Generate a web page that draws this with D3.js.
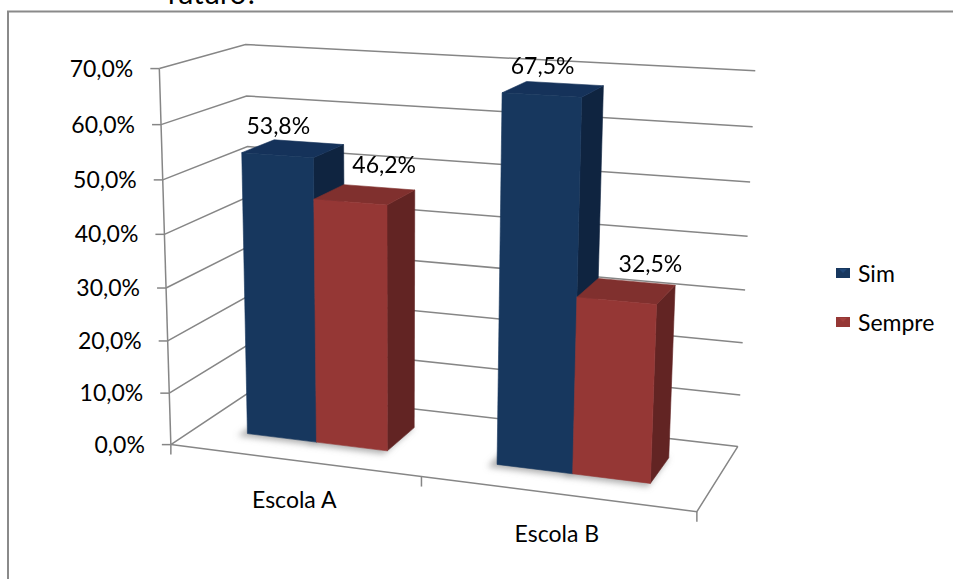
<!DOCTYPE html>
<html>
<head>
<meta charset="utf-8">
<script src="https://cdn.jsdelivr.net/npm/d3@7"></script>
<style>
  body { margin: 0; background: #fff; }
  svg { display: block; }
  text { font-family: Lato, "Open Sans", sans-serif; fill: #000; }
</style>
</head>
<body>
<svg id="chart" width="953" height="579"></svg>
<script>
// ---- data ----
const categories = ["Escola A", "Escola B"];
const seriesNames = ["Sim", "Sempre"];
const simValues = [53.8, 67.5];
const sempreValues = [46.2, 32.5];
const valueTicks = [0, 10, 20, 30, 40, 50, 60, 70];
const titleText = "futuro?";

// ---- styles ----
const palette = {
  Sim:    { front: "#17375E", side: "#0F2440", top: "#15325A", legend: "#1F4778" },
  Sempre: { front: "#953735", side: "#622423", top: "#80302E", legend: "#A4403D" }
};
const gridColor = "#868686";

const svg = d3.select("#chart");
const defs = svg.append("defs");
defs.append("filter").attr("id", "soft").attr("x", "-20%").attr("y", "-50%").attr("width", "140%").attr("height", "200%")
  .append("feGaussianBlur").attr("stdDeviation", 3);

// ---- 3D box: unit cube (x across categories, y value, z depth front->back) ----
// screen positions of the plot box corners
const boxAnchors = [
  [[0, 1, 0], [158, 69]],
  [[0, 0, 0], [172, 443]],
  [[0, 1, 1], [247, 44]],
  [[0, 0, 1], [251, 392]],
  [[1, 1, 1], [755, 71]],
  [[1, 0, 1], [738, 445]],
  [[1, 0, 0], [697, 513]]
];

// Fit a perspective camera (3x4) to the anchors by linear least squares
function fitCamera(pairs) {
  const cu = 450, cv = 280, s = 300;
  const rows = [], rhs = [];
  for (const [[X, Y, Z], [u0, v0]] of pairs) {
    const u = (u0 - cu) / s, v = (v0 - cv) / s;
    rows.push([X, Y, Z, 1, 0, 0, 0, 0, -u * X, -u * Y, -u * Z]); rhs.push(u);
    rows.push([0, 0, 0, 0, X, Y, Z, 1, -v * X, -v * Y, -v * Z]); rhs.push(v);
  }
  const n = 11;
  const A = Array.from({ length: n }, () => new Array(n + 1).fill(0));
  rows.forEach((r, k) => {
    for (let i = 0; i < n; i++) {
      for (let j = 0; j < n; j++) A[i][j] += r[i] * r[j];
      A[i][n] += r[i] * rhs[k];
    }
  });
  for (let c = 0; c < n; c++) {
    let piv = c;
    for (let r = c + 1; r < n; r++) if (Math.abs(A[r][c]) > Math.abs(A[piv][c])) piv = r;
    [A[c], A[piv]] = [A[piv], A[c]];
    for (let r = 0; r < n; r++) {
      if (r === c) continue;
      const f = A[r][c] / A[c][c];
      for (let k = c; k <= n; k++) A[r][k] -= f * A[c][k];
    }
  }
  const p = A.map((row, i) => row[n] / row[i]);
  return function (X, Y, Z) {
    const w = p[8] * X + p[9] * Y + p[10] * Z + 1;
    const u = (p[0] * X + p[1] * Y + p[2] * Z + p[3]) / w;
    const v = (p[4] * X + p[5] * Y + p[6] * Z + p[7]) / w;
    return [u * s + cu, v * s + cv];
  };
}
const P = fitCamera(boxAnchors);

// ---- scales ----
const y = d3.scaleLinear().domain([0, 70]).range([0, 1]);
const x0 = d3.scaleBand().domain(categories).range([0, 1]).paddingInner(1.5 / 3.5).paddingOuter(0.75 / 3.5);
const x1 = d3.scaleBand().domain(seriesNames).range([0, x0.bandwidth()]);
const zFront = 0.3, zBack = 0.7;

const pct = d3.formatLocale({ decimal: ",", thousands: ".", grouping: [3], currency: ["", ""] }).format(".1f");
const line = d3.line();

// ---- chart area border ----
svg.append("path").attr("d", "M8,579V11.5H953").attr("fill", "none").attr("stroke", "#8a8a8a").attr("stroke-width", 2);

// ---- title (top of chart) ----
svg.append("text").attr("x", 167).attr("y", 4).attr("font-size", 29).text(titleText);

// ---- walls & gridlines ----
const grid = svg.append("g").attr("fill", "none").attr("stroke", gridColor).attr("stroke-width", 1.5);
valueTicks.forEach(t => {
  const yy = y(t);
  grid.append("path").attr("d", line([P(0, yy, 0), P(0, yy, 1), P(1, yy, 1)]));
});
// value axis line and floor outline
grid.append("path").attr("d", line([P(0, y(70), 0), P(0, 0, 0)]));
grid.append("path").attr("d", line([P(0, 0, 0), P(1, 0, 0), P(1, 0, 1)]));

// value ticks and labels
valueTicks.forEach(t => {
  const [px, py] = P(0, y(t), 0);
  grid.append("path").attr("d", line([[px - 9, py], [px, py]]));
  svg.append("text").attr("x", px - 26).attr("y", py).attr("dy", "0.35em")
    .attr("text-anchor", "end").attr("font-size", 23).text(pct(t) + "%");
});

// category ticks and labels
[0, 0.5, 1].forEach(f => {
  const [px, py] = P(f, 0, 0);
  grid.append("path").attr("d", line([[px, py], [px, py + 10]]));
});
categories.forEach(c => {
  const [px, py] = P(x0(c) + x0.bandwidth() / 2, 0, 0);
  svg.append("text").attr("x", px + 1).attr("y", py + 48).attr("text-anchor", "middle")
    .attr("font-size", 23).text(c);
});

// ---- bars ----
const bars = [];
categories.forEach((c, i) => {
  seriesNames.forEach((s, j) => {
    const v = (j === 0 ? simValues : sempreValues)[i];
    const xa = x0(c) + x1(s), xb = xa + x1.bandwidth();
    bars.push({ c, s, v, xa, xb, h: y(v) });
  });
});

const shadowG = svg.append("g").attr("filter", "url(#soft)");
bars.forEach(b => {
  shadowG.append("path")
    .attr("d", line([P(b.xa - 0.012, 0, zFront - 0.05), P(b.xb, 0, zFront - 0.05), P(b.xb, 0, zBack), P(b.xa - 0.012, 0, zBack)]) + "Z")
    .attr("fill", "#8c8c8c").attr("opacity", 0.7);
});

const barG = svg.append("g");
bars.forEach(b => {
  const col = palette[b.s];
  const g = barG.append("g").attr("stroke-linejoin", "round").attr("stroke-width", 0.6);
  // right side
  g.append("path").attr("d", line([P(b.xb, 0, zFront), P(b.xb, 0, zBack), P(b.xb, b.h, zBack), P(b.xb, b.h, zFront)]) + "Z")
    .attr("fill", col.side).attr("stroke", col.side);
  // top
  g.append("path").attr("d", line([P(b.xa, b.h, zFront), P(b.xb, b.h, zFront), P(b.xb, b.h, zBack), P(b.xa, b.h, zBack)]) + "Z")
    .attr("fill", col.top).attr("stroke", col.top);
  // front
  g.append("path").attr("d", line([P(b.xa, 0, zFront), P(b.xb, 0, zFront), P(b.xb, b.h, zFront), P(b.xa, b.h, zFront)]) + "Z")
    .attr("fill", col.front).attr("stroke", col.front);
});

// value labels
const labelOffset = { Sim: [1, -21], Sempre: [34, -29] };
bars.forEach(b => {
  const [px, py] = P((b.xa + b.xb) / 2, b.h, zFront);
  const [dx, dy] = labelOffset[b.s];
  svg.append("text").attr("x", px + dx).attr("y", py + dy).attr("text-anchor", "middle")
    .attr("font-size", 23).text(pct(b.v) + "%");
});

// ---- legend ----
const legend = svg.append("g").attr("transform", "translate(836,268)");
seriesNames.forEach((s, i) => {
  const g = legend.append("g").attr("transform", `translate(0,${i * 49})`);
  g.append("rect").attr("width", 14).attr("height", 10).attr("fill", palette[s].front);
  g.append("path").attr("d", "M3,1H11L7,5Z").attr("fill", palette[s].legend);
  g.append("text").attr("x", 22).attr("y", 14).attr("font-size", 23).text(s);
});
</script>
</body>
</html>
